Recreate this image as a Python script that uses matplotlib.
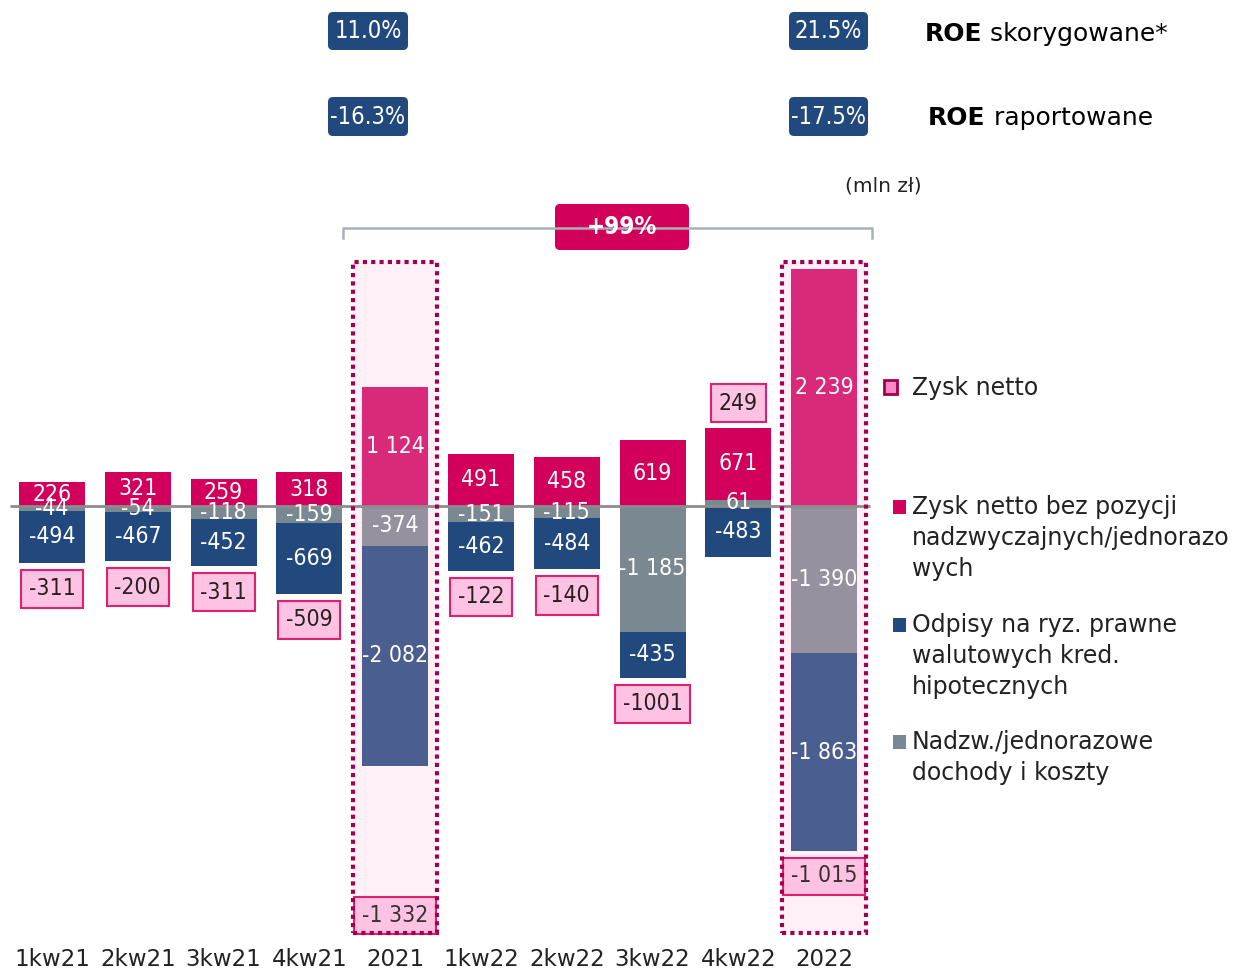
import numpy as np
import matplotlib
matplotlib.use("Agg")
import matplotlib.pyplot as plt
from matplotlib.patches import Rectangle, FancyBboxPatch

plt.rcParams['font.family'] = ['DejaVu Sans']

# ---------------- data ----------------
categories = ['1kw21', '2kw21', '3kw21', '4kw21', '2021',
              '1kw22', '2kw22', '3kw22', '4kw22', '2022']
zysk_bez = [226, 321, 259, 318, 1124, 491, 458, 619, 671, 2239]
nadzw = [-44, -54, -118, -159, -374, -151, -115, -1185, 61, -1390]
odpisy = [-494, -467, -452, -669, -2082, -462, -484, -435, -483, -1863]
zysk_netto = [-311, -200, -311, -509, -1332, -122, -140, -1001, 249, -1015]
zysk_netto_txt = ['-311', '-200', '-311', '-509', '-1 332',
                  '-122', '-140', '-1001', '249', '-1 015']
annual = [False, False, False, False, True, False, False, False, False, True]

roe_adj = ['11.0%', '21.5%']
roe_rep = ['-16.3%', '-17.5%']
growth_txt = '+99%'

legend_items = [
    ['Zysk netto bez pozycji', 'nadzwyczajnych/jednorazo', 'wych'],
    ['Odpisy na ryz. prawne', 'walutowych kred.', 'hipotecznych'],
    ['Nadzw./jednorazowe', 'dochody i koszty'],
]

# ---------------- style ----------------
pink_q, pink_a = '#D3005B', '#D92979'
blue_q, blue_a = '#21497D', '#4A5F8F'
grey_q, grey_a = '#7A8891', '#96919F'
box_face = '#FFF0F7'
dot_edge = '#A0004E'
net_face = '#FFC2E2'
net_edge = '#E0206E'
txt_dark = '#222222'

W, H = 1242, 972
fig = plt.figure(figsize=(W / 100, H / 100), dpi=100)

# pixel geometry
X0, DX = 52.0, 85.8       # first bar centre, spacing (px)
Y0, SY = 506.0, 0.106     # zero line (px), px per unit

ax = fig.add_axes([0, 0, 1, 1])
ax.set_xlim(-X0 / DX, (W - X0) / DX)
ax.set_ylim((Y0 - H) / SY, Y0 / SY)
ax.axis('off')

def py2d(py):
    return (Y0 - py) / SY

xs = np.arange(len(categories))
bw = 0.77
NUM_FS = 16.5

# dotted boxes for annual columns
for i in xs:
    if annual[i]:
        top, bot = py2d(262), py2d(933)
        ax.add_patch(Rectangle((i - 0.49, bot), 0.98, top - bot,
                               facecolor=box_face, edgecolor='none', zorder=0))

def fmt(v):
    return f"{v:,}".replace(',', ' ')

for i in xs:
    a = annual[i]
    cp, cb, cg = (pink_a, blue_a, grey_a) if a else (pink_q, blue_q, grey_q)
    g = nadzw[i]
    pos_base = g if g > 0 else 0
    neg_base = g if g < 0 else 0
    ax.bar(i, g, bw, bottom=0, color=cg, zorder=2)
    ax.bar(i, zysk_bez[i], bw, bottom=pos_base, color=cp, zorder=2)
    ax.bar(i, odpisy[i], bw, bottom=neg_base, color=cb, zorder=2)

    kw = dict(ha='center', va='center', color='white', fontsize=NUM_FS,
              fontstretch='condensed', zorder=5)
    ax.text(i, pos_base + zysk_bez[i] / 2, fmt(zysk_bez[i]), **kw)
    ax.text(i, g / 2, fmt(g), **kw)
    ax.text(i, neg_base + odpisy[i] / 2, fmt(odpisy[i]), **kw)

    # net profit label
    if a:
        yc = py2d(915) if i == 4 else py2d(876)
        h = 37 / SY
        ax.add_patch(Rectangle((i - 0.48, yc - h / 2), 0.96, h,
                               facecolor=net_face, edgecolor=net_edge,
                               lw=1.5, zorder=3))
        ax.text(i, yc, zysk_netto_txt[i], ha='center', va='center',
                color='#333333', fontsize=NUM_FS, fontstretch='condensed',
                zorder=5)
    else:
        if zysk_netto[i] < 0:
            yc = neg_base + odpisy[i] - 245
        else:
            yc = pos_base + zysk_bez[i] + 236
        ax.text(i, yc, zysk_netto_txt[i], ha='center', va='center',
                color=txt_dark, fontsize=NUM_FS, fontstretch='condensed',
                zorder=5,
                bbox=dict(boxstyle='square,pad=0.33', facecolor=net_face,
                          edgecolor=net_edge, lw=1.5))

# dotted outlines on top
for i in xs:
    if annual[i]:
        top, bot = py2d(262), py2d(933)
        ax.add_patch(Rectangle((i - 0.49, bot), 0.98, top - bot,
                               facecolor='none', edgecolor=dot_edge, lw=3,
                               linestyle=(0, (1, 1)), zorder=6))

# zero line
ax.plot([(10 - X0) / DX, (870 - X0) / DX], [0, 0], color='#8C8C8C',
        lw=2, zorder=4, solid_capstyle='butt')

# x labels
for i, c in zip(xs, categories):
    ax.text(i, py2d(960), c, ha='center', va='center', color=txt_dark,
            fontsize=16.5)

# ---------------- overlay (pixel coordinates) ----------------
ov = fig.add_axes([0, 0, 1, 1], facecolor='none')
ov.set_xlim(0, W)
ov.set_ylim(H, 0)
ov.axis('off')

def badge(x0, y0, w, h, txt, color, bold=False, fs=17):
    ov.add_patch(FancyBboxPatch((x0, y0), w, h,
                                boxstyle='round,pad=0,rounding_size=5',
                                facecolor=color, edgecolor='none'))
    ov.text(x0 + w / 2, y0 + h / 2, txt, ha='center', va='center',
            color='white', fontsize=fs, fontstretch='condensed',
            fontweight='bold' if bold else 'normal')

badge(328, 12, 80, 38, roe_adj[0], blue_q)
badge(789, 12, 79, 38, roe_adj[1], blue_q)
badge(328, 97, 80, 39, roe_rep[0], blue_q)
badge(789, 97, 79, 39, roe_rep[1], blue_q)

t1 = ov.text(925, 34, 'ROE', ha='left', va='center', fontsize=18,
             fontweight='bold', color='black')
ov.annotate(' skorygowane*', xy=(1, 0.5), xycoords=t1, ha='left',
            va='center', fontsize=18, color='black')
t2 = ov.text(928, 118, 'ROE', ha='left', va='center', fontsize=18,
             fontweight='bold', color='black')
ov.annotate(' raportowane', xy=(1, 0.5), xycoords=t2, ha='left',
            va='center', fontsize=18, color='black')

ov.text(883, 186, '(mln zł)', ha='center', va='center', fontsize=14.5,
        color=txt_dark)

# bracket with growth badge
ov.plot([343, 343, 872, 872], [238, 228, 228, 238], color='#A8B0B8', lw=1.8)
badge(555, 204, 134, 46, growth_txt, pink_q, bold=True, fs=17.5)

# legend
LEG_FS = 17
ov.add_patch(Rectangle((884, 380), 13, 14, facecolor='#FF88C4',
                       edgecolor=dot_edge, lw=2))
ov.text(912, 388, 'Zysk netto', ha='left', va='center', fontsize=LEG_FS,
        color=txt_dark)
leg_colors = [pink_q, blue_q, grey_q]
leg_y = [507, 625, 742]
for lines, col, y in zip(legend_items, leg_colors, leg_y):
    ov.add_patch(Rectangle((893, y - 7), 13, 14, facecolor=col,
                           edgecolor='none'))
    for k, ln in enumerate(lines):
        ov.text(912, y + 31 * k, ln, ha='left', va='center', fontsize=LEG_FS,
                color=txt_dark)

fig.savefig('out.png', dpi=100)
